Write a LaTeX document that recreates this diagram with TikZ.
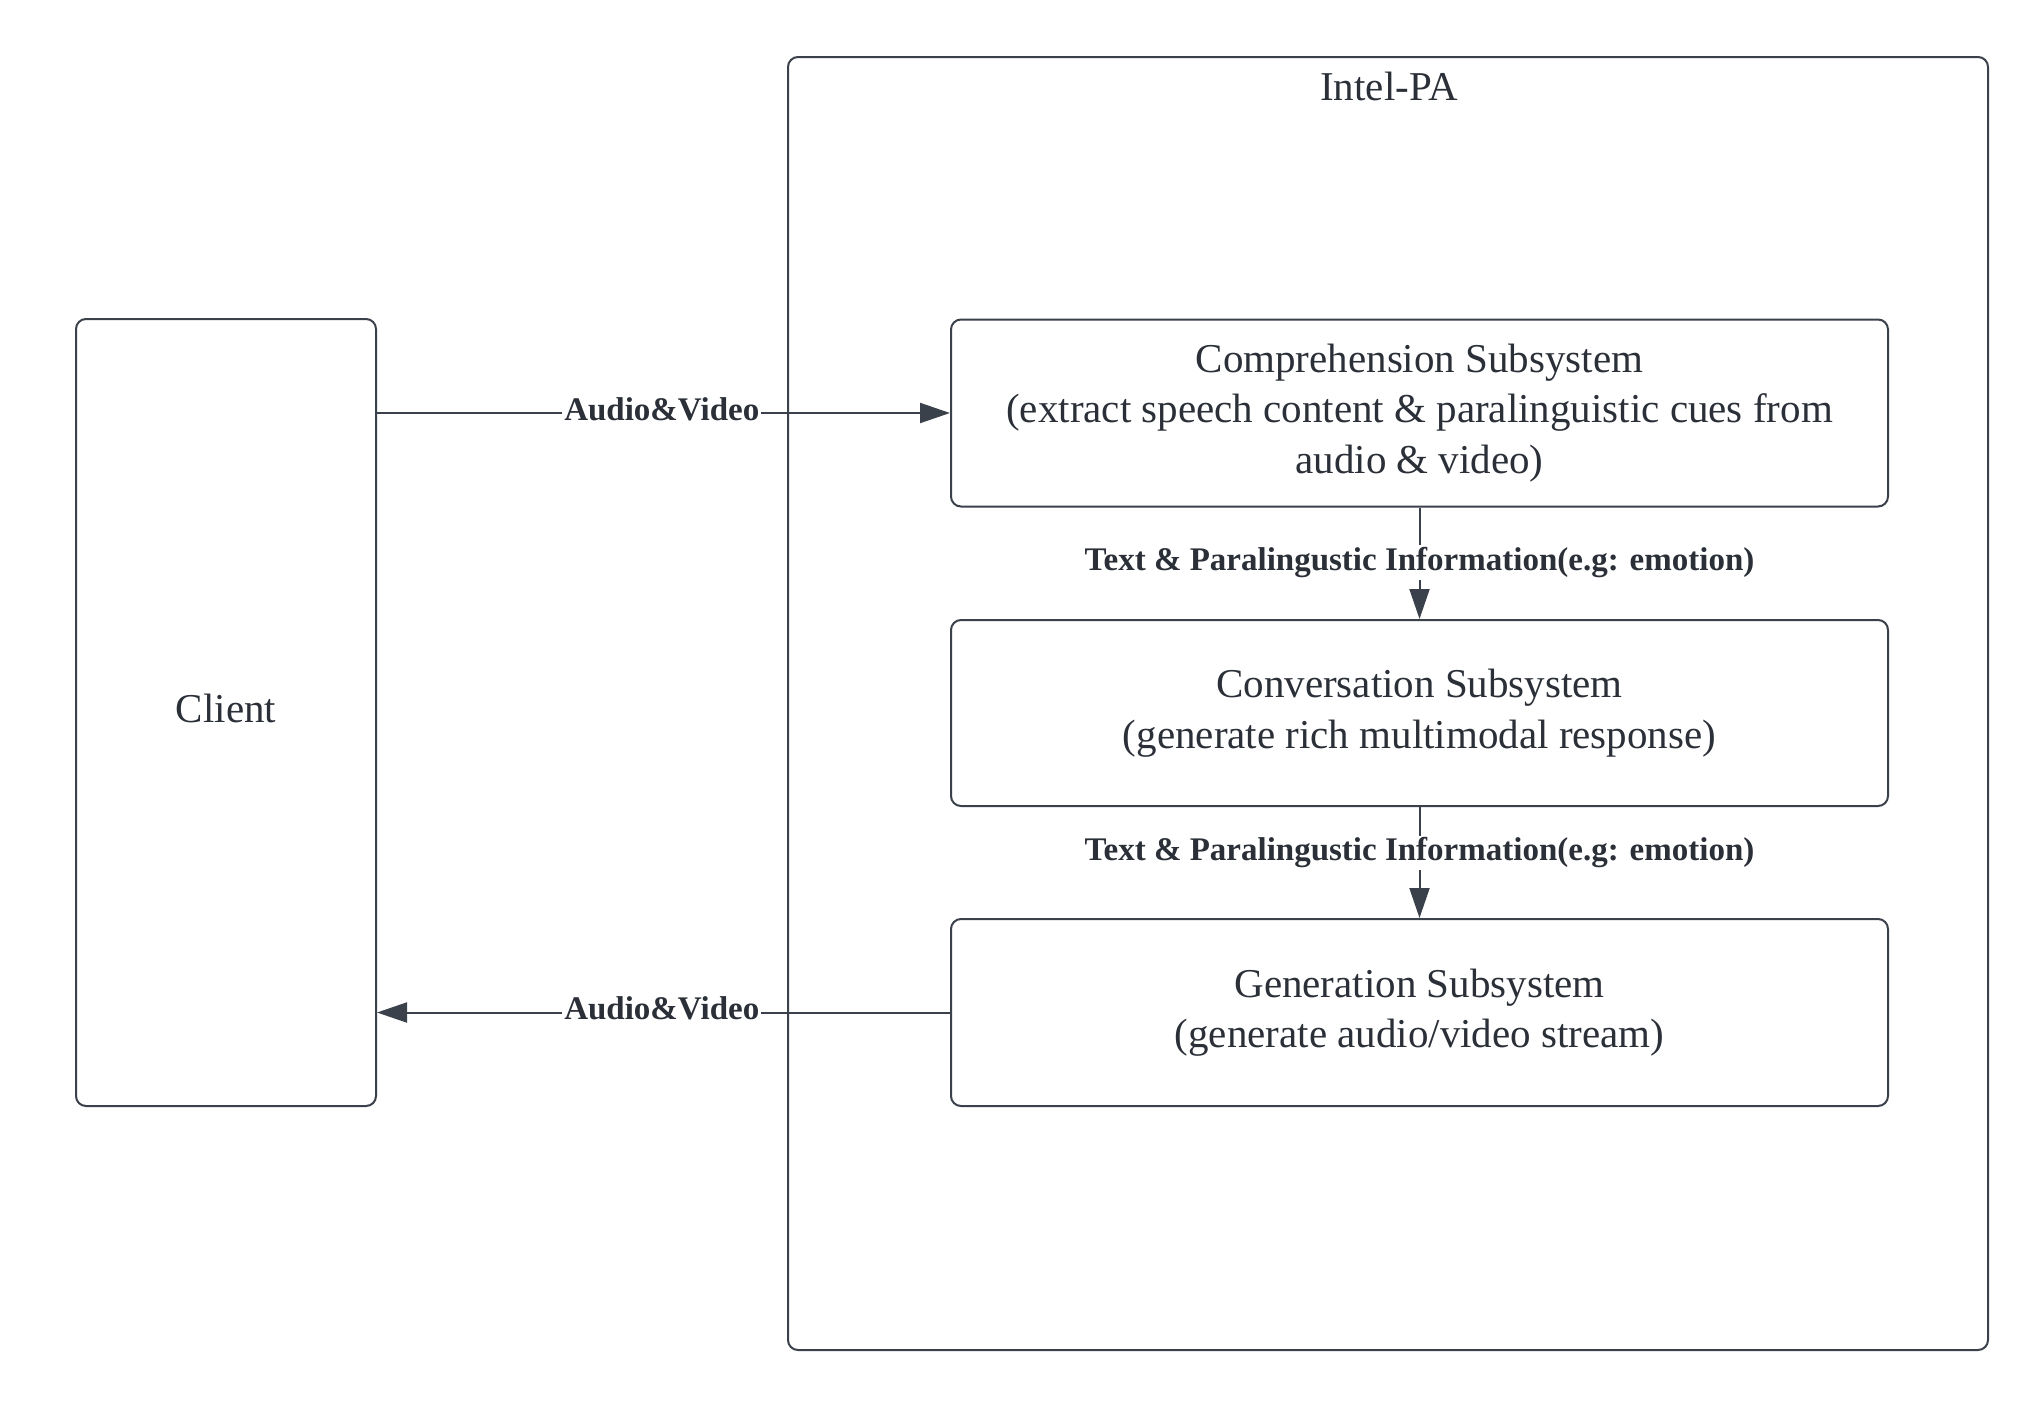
\documentclass[tikz,border=0pt]{standalone}
\usepackage{fontspec}
\setmainfont{Liberation Serif}
\usetikzlibrary{arrows.meta}
\definecolor{linec}{HTML}{3A414A}
\definecolor{textc}{HTML}{2B3038}
\tikzset{
  box/.style={draw=linec, line width=1pt, rounded corners=5pt, text=textc,
    align=center, inner sep=0pt, font=\fontsize{20.5}{25.3}\selectfont},
  conn/.style={draw=linec, line width=1pt, -{Triangle[length=15pt,width=10pt]}},
  lab/.style={fill=white, text=textc, inner sep=1pt, font=\fontsize{16.5}{20}\selectfont\bfseries},
  plain/.style={text=textc, font=\fontsize{20.5}{25.3}\selectfont},
}
\begin{document}
\begin{tikzpicture}[x=0.5pt,y=-0.5pt]
\useasboundingbox (0,0) rectangle (2029,1408);
\node[box, minimum width=600pt, minimum height=646.5pt] (outer) at (1388,703.5) {};
\node[plain] (title) at (1389,86) {Intel-PA};
\node[box, minimum width=150pt, minimum height=393.5pt] (client) at (226,712.5) {};
\node[plain] (clienttxt) at ([yshift=2pt]client.center) {Client};
\node[box, minimum width=468.5pt, minimum height=93.5pt] (comp) at (1419.5,413)
  {Comprehension Subsystem\\(extract speech content \& paralinguistic cues from\\audio \& video)};
\node[box, minimum width=468.5pt, minimum height=93pt] (conv) at (1419.5,713)
  {Conversation Subsystem\\(generate rich multimodal response)};
\node[box, minimum width=468.5pt, minimum height=93.5pt] (gen) at (1419.5,1012.5)
  {Generation Subsystem\\(generate audio/video stream)};
\draw[conn] (client.east |- comp.west) -- node[lab, pos=0.497, yshift=2pt] (l1) {Audio\&Video} (comp.west);
\draw[conn] (gen.west) -- node[lab, pos=0.503, yshift=2pt] (l2) {Audio\&Video} (gen.west -| client.east);
\draw[conn] (comp.south) -- node[lab, pos=0.494] (l3) {Text \& Paralingustic Information(e.g: emotion)} (conv.north);
\draw[conn] (conv.south) -- node[lab, pos=0.413] (l4) {Text \& Paralingustic Information(e.g: emotion)} (gen.north);
\end{tikzpicture}
\end{document}
